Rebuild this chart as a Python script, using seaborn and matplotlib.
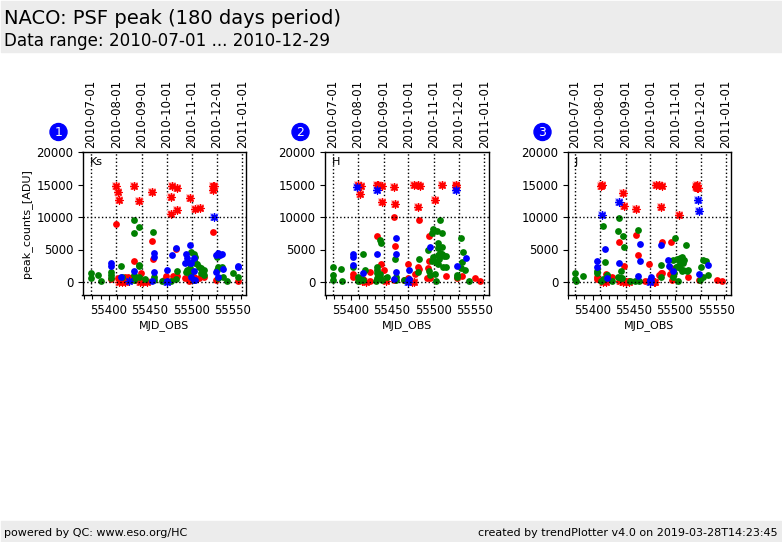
import matplotlib
matplotlib.use('Agg')
import matplotlib.pyplot as plt
from matplotlib.patches import Rectangle, Ellipse
from matplotlib.ticker import MultipleLocator
import pandas as pd
import seaborn as sns

# tick dates on top axis, with their MJD
date_labels = ['2010-07-01', '2010-08-01', '2010-09-01', '2010-10-01',
               '2010-11-01', '2010-12-01', '2011-01-01']
date_mjd = [55378, 55409, 55440, 55470, 55501, 55531, 55562]
panel_ids = ['1', '2', '3']
bands = ['Ks', 'H', 'J']

# ---- Ks ----
ks_red_star_mjd = [55409, 55411, 55412, 55431, 55436, 55452, 55475, 55475, 55477, 55483, 55483,
                   55499, 55504, 55511, 55526, 55527, 55528, 55412, 55416, 55420, 55438, 55442, 55446]
ks_red_star_peak = [14750, 13900, 12600, 14800, 12450, 13850, 13100, 10450, 14700, 14400, 11100,
                    12950, 11200, 11400, 14200, 14750, 14750, 0, 0, 0, 0, 0, 0]
ks_blue_star_mjd = [55528, 55470, 55424]
ks_blue_star_peak = [10000, 0, 100]
ks_red_mjd = [55409, 55452, 55431, 55454, 55482, 55439, 55469, 55478, 55483, 55527, 55403, 55411,
              55419, 55423, 55427, 55432, 55469, 55493, 55497, 55515, 55530, 55557, 55503, 55509, 55467, 55441]
ks_red_peak = [8900, 6300, 3200, 3550, 5100, 1350, 1000, 1000, 1000, 7650, 400, 570,
               720, 820, 570, 300, 300, 570, 200, 820, 300, 100, 820, 570, 300, 200]
ks_green_mjd = [55378, 55378, 55387, 55390, 55403, 55403, 55403, 55415, 55416, 55431, 55430, 55437,
                55436, 55437, 55430, 55430, 55436, 55444, 55454, 55455, 55455, 55464, 55476, 55483,
                55482, 55500, 55503, 55505, 55503, 55505, 55507, 55510, 55512, 55515, 55512, 55515,
                55495, 55494, 55498, 55499, 55503, 55531, 55531, 55533, 55537, 55533, 55538, 55544,
                55551, 55557]
ks_green_peak = [1340, 570, 1030, 100, 1600, 1080, 570, 2420, 820, 9500, 7500, 8450,
                 2680, 2470, 1080, 300, 820, 400, 7670, 820, 300, 200, 100, 1650,
                 400, 4680, 4330, 3900, 3400, 3000, 2780, 2370, 2100, 1850, 1340, 1080,
                 1850, 1600, 2100, 1240, 300, 3900, 1850, 2370, 2370, 570, 820, 100,
                 1340, 820]
ks_blue_mjd = [55403, 55403, 55415, 55431, 55455, 55455, 55455, 55452, 55470, 55470, 55477, 55482,
               55499, 55494, 55493, 55495, 55498, 55500, 55503, 55503, 55500, 55503, 55505, 55530,
               55533, 55537, 55535, 55539, 55530, 55532, 55557, 55557]
ks_blue_peak = [2900, 2400, 700, 1650, 4400, 3800, 1500, 200, 1800, 200, 4100, 5300,
                5650, 4300, 3000, 3650, 3000, 2900, 3650, 1650, 800, 300, 300, 4100,
                4400, 4250, 4100, 1950, 1500, 700, 2400, 2250]

# ---- H ----
h_red_star_mjd = [55409, 55413, 55411, 55432, 55433, 55438, 55438, 55453, 55454, 55477, 55482, 55484,
                  55482, 55502, 55511, 55527, 55528, 55527, 55528, 55414, 55418, 55477, 55474, 55443]
h_red_star_peak = [15000, 14700, 13550, 15000, 15000, 14700, 12300, 14600, 12000, 14950, 14950, 14700,
                   11550, 12600, 14950, 14950, 14950, 14650, 14650, 100, 0, 0, 0, 100]
h_blue_star_mjd = [55408, 55432, 55528, 55470]
h_blue_star_peak = [14650, 14150, 14150, 0]
h_red_mjd = [55453, 55483, 55432, 55454, 55495, 55437, 55440, 55469, 55495, 55482, 55483, 55494,
             55403, 55403, 55423, 55478, 55516, 55535, 55551, 55557, 55529, 55492, 55496, 55465,
             55469, 55453, 55423, 55415]
h_red_peak = [10000, 9500, 7050, 5500, 7050, 2750, 1800, 2700, 3200, 2270, 1960, 2100,
              1200, 830, 1500, 1200, 1000, 1000, 550, 100, 570, 570, 570, 300,
              570, 300, 200, 400]
h_green_mjd = [55379, 55379, 55379, 55388, 55390, 55403, 55415, 55417, 55409, 55411, 55409, 55412,
               55415, 55436, 55437, 55432, 55432, 55432, 55432, 55436, 55436, 55438, 55431, 55444,
               55454, 55455, 55455, 55464, 55483, 55482, 55508, 55500, 55499, 55505, 55511, 55494,
               55506, 55506, 55511, 55508, 55500, 55506, 55511, 55507, 55513, 55515, 55503, 55499,
               55506, 55512, 55515, 55495, 55496, 55502, 55503, 55534, 55536, 55535, 55529, 55529,
               55533, 55539, 55543]
h_green_peak = [2250, 1030, 300, 1950, 100, 2250, 4300, 1800, 820, 300, 100, 400,
                300, 6400, 6000, 2250, 1850, 1340, 570, 1240, 720, 300, 100, 820,
                3500, 820, 300, 300, 3500, 1500, 9500, 8150, 7500, 7800, 7500, 4900,
                6000, 5200, 5350, 4430, 3800, 4100, 4270, 3500, 4000, 4000, 3050, 3200,
                2700, 2270, 2270, 1650, 1080, 1180, 100, 6750, 4600, 3050, 1030, 720,
                2100, 1800, 100]
h_blue_mjd = [55403, 55403, 55403, 55415, 55432, 55455, 55455, 55455, 55452, 55471, 55471, 55496,
              55529, 55540]
h_blue_peak = [4300, 3900, 2600, 1350, 4300, 6750, 4300, 1500, 400, 1800, 400, 5350,
               2400, 3650]

# ---- J ----
j_red_star_mjd = [55411, 55410, 55437, 55438, 55453, 55477, 55481, 55484, 55483, 55505, 55526, 55527,
                  55528, 55527, 55526, 55413, 55416, 55433, 55437, 55440, 55444, 55474, 55476]
j_red_star_peak = [14900, 14800, 13700, 11700, 11200, 14950, 14950, 14800, 11550, 10300, 14800, 14950,
                   14500, 14500, 14650, 0, 0, 100, 0, 0, 0, 0, 0]
j_blue_star_mjd = [55411, 55432, 55528, 55529, 55470]
j_blue_star_peak = [10300, 12300, 12600, 10900, 0]
j_red_mjd = [55453, 55432, 55455, 55438, 55469, 55484, 55495, 55495, 55483, 55480, 55484, 55494,
             55496, 55516, 55405, 55405, 55416, 55418, 55423, 55432, 55436, 55443, 55464, 55468,
             55551, 55557, 55529]
j_red_peak = [7200, 6100, 4100, 2400, 2700, 6100, 6100, 2100, 1340, 1030, 1340, 1180,
              300, 720, 720, 400, 1180, 820, 720, 570, 300, 200, 100, 200,
              260, 100, 300]
j_green_mjd = [55379, 55379, 55380, 55388, 55405, 55405, 55413, 55415, 55417, 55418, 55410, 55412,
               55423, 55432, 55431, 55437, 55438, 55434, 55431, 55434, 55436, 55445, 55455, 55451,
               55456, 55483, 55483, 55500, 55513, 55498, 55503, 55506, 55509, 55511, 55506, 55510,
               55504, 55501, 55506, 55510, 55516, 55497, 55504, 55499, 55509, 55514, 55531, 55534,
               55538, 55534, 55540, 55530]
j_green_peak = [1350, 420, 100, 900, 1650, 1340, 8600, 3050, 1030, 1030, 200, 400,
                100, 9850, 7800, 7050, 5350, 1650, 720, 570, 570, 200, 8000, 100,
                200, 2600, 700, 6750, 5650, 3350, 3500, 3650, 3900, 3350, 3100, 2950,
                2470, 2270, 2100, 1800, 1850, 720, 100, 1340, 1650, 1650, 2250, 3350,
                3200, 720, 1030, 260]
j_blue_mjd = [55405, 55405, 55415, 55417, 55432, 55457, 55457, 55455, 55471, 55471, 55470, 55483,
              55492, 55493, 55497, 55529, 55540]
j_blue_peak = [3200, 2300, 5050, 600, 2900, 5850, 3200, 900, 720, 200, 300, 5650,
               3350, 2400, 1650, 1250, 2600]

red_stars = [(ks_red_star_mjd, ks_red_star_peak), (h_red_star_mjd, h_red_star_peak), (j_red_star_mjd, j_red_star_peak)]
blue_stars = [(ks_blue_star_mjd, ks_blue_star_peak), (h_blue_star_mjd, h_blue_star_peak), (j_blue_star_mjd, j_blue_star_peak)]
reds = [(ks_red_mjd, ks_red_peak), (h_red_mjd, h_red_peak), (j_red_mjd, j_red_peak)]
greens = [(ks_green_mjd, ks_green_peak), (h_green_mjd, h_green_peak), (j_green_mjd, j_green_peak)]
blues = [(ks_blue_mjd, ks_blue_peak), (h_blue_mjd, h_blue_peak), (j_blue_mjd, j_blue_peak)]

sns.set_style('ticks', {'text.color': 'black', 'axes.labelcolor': 'black', 'xtick.color': 'black',
                        'ytick.color': 'black', 'axes.edgecolor': 'black'})
plt.rcParams['font.family'] = ['DejaVu Sans']

W, H = 782, 542
fig = plt.figure(figsize=(W / 100, H / 100), dpi=100)

# header / footer bands
fig.add_artist(Rectangle((1 / W, 1 - 52 / H), 780 / W, 51 / H, transform=fig.transFigure, color='#ececec', zorder=-5))
fig.add_artist(Rectangle((1 / W, 0), 780 / W, 21 / H, transform=fig.transFigure, color='#ececec', zorder=-5))
fig.text(4 / W, 1 - 18 / H, 'NACO: PSF peak (180 days period)', fontsize=14, va='center', color='black')
fig.text(4 / W, 1 - 41 / H, 'Data range: 2010-07-01 ... 2010-12-29', fontsize=12.1, va='center', color='black')
fig.text(4 / W, 9 / H, 'powered by QC: www.eso.org/HC', fontsize=8, va='center', color='black')
fig.text(778 / W, 9 / H, 'created by trendPlotter v4.0 on 2019-03-28T14:23:45', fontsize=8, va='center', ha='right', color='black')

lefts = [82.5, 324.5, 567.5]
widths = [163.5, 164.5, 163.5]
xlims = [(55368, 55566.5), (55368.3, 55567.5), (55369.5, 55568)]
circle_x = [58.5, 300.5, 542.5]


def draw_points(ax, pts, color, marker, size, lw=0):
    df = pd.DataFrame({'mjd': pts[0], 'peak': pts[1]})
    sns.scatterplot(data=df, x='mjd', y='peak', ax=ax, color=color, marker=marker, s=size,
                    linewidth=lw, edgecolor=color, clip_on=True, zorder=3, legend=False)


for i, band in enumerate(bands):
    ax = fig.add_axes([lefts[i] / W, 1 - 295 / H, widths[i] / W, 143 / H])
    ax.set_xlim(xlims[i])
    ax.set_ylim(-2000, 20000)

    for d in date_mjd:
        ax.axvline(d, color='black', ls=':', lw=1, zorder=1)
    for level in [0, 10000]:
        ax.axhline(level, color='black', ls=':', lw=1, zorder=4)

    # halo under the stars, then the stars themselves
    draw_points(ax, red_stars[i], '#ffc4c4', 's', 30)
    draw_points(ax, blue_stars[i], '#c4c4ff', 's', 30)
    draw_points(ax, red_stars[i], 'red', (8, 2, 0), 26, 1.0)
    draw_points(ax, reds[i], 'red', 'o', 24)
    draw_points(ax, greens[i], 'green', 'o', 24)
    draw_points(ax, blues[i], 'blue', 'o', 24)
    draw_points(ax, blue_stars[i], 'blue', (8, 2, 0), 26, 1.0)

    ax.set_xticks([55400, 55450, 55500, 55550])
    ax.xaxis.set_minor_locator(MultipleLocator(10))
    ax.set_yticks([0, 5000, 10000, 15000, 20000])
    ax.tick_params(axis='both', which='major', labelsize=8.5, length=3.5, width=0.8, pad=3)
    ax.tick_params(axis='x', which='minor', bottom=True, length=3, width=0.8)
    ax.set_xlabel('MJD_OBS', fontsize=8, labelpad=2)
    ax.set_ylabel('peak_counts_[ADU]' if i == 0 else '', fontsize=8, labelpad=3.5)
    for spine in ax.spines.values():
        spine.set_visible(True)
        spine.set_linewidth(1)
    ax.text(0.045, 0.93, band, transform=ax.transAxes, fontsize=8, ha='left', va='center', zorder=6)

    top = ax.secondary_xaxis('top')
    top.set_xticks(date_mjd, labels=date_labels, rotation=90)
    top.tick_params(axis='x', length=0, pad=3, labelsize=8.5)
    top.spines['top'].set_visible(False)

    # numbered blue badge
    fig.add_artist(Ellipse((circle_x[i] / W, 1 - 132 / H), 17 / W, 17 / H, transform=fig.transFigure, color='blue'))
    fig.text(circle_x[i] / W, 1 - 132.5 / H, panel_ids[i], color='white', fontsize=9, ha='center', va='center')

fig.savefig('out.png', dpi=100)
